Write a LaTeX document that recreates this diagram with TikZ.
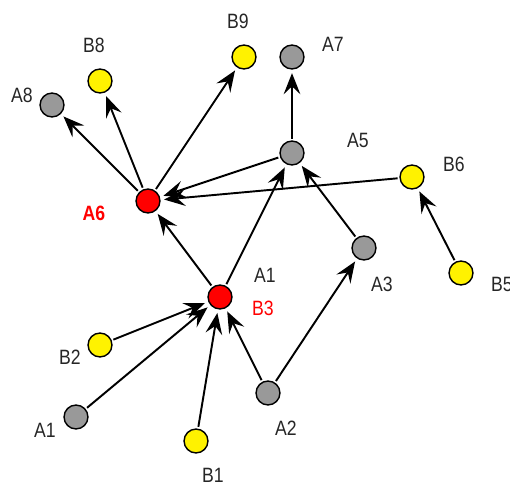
\documentclass[tikz,border=0pt]{standalone}
\usepackage{fontspec}
\setmainfont{Liberation Sans}[FakeStretch=0.85]
\usetikzlibrary{arrows.meta}
\definecolor{nodegray}{RGB}{153,153,153}
\tikzset{>={Stealth[length=12pt,width=9.5pt,inset=4.5pt]}}
\tikzset{
  vert/.style={circle, draw, line width=0.8pt, minimum size=13.6pt, inner sep=0pt},
  gv/.style={vert, fill=nodegray},
  yv/.style={vert, fill=yellow},
  rv/.style={vert, fill=red},
  lab/.style={font=\fontsize{11.8}{13}\selectfont, text=black!85, inner sep=0pt},
  edge/.style={->, line width=1.1pt, shorten >=2pt, shorten <=1pt}
}

\begin{document}
\begin{tikzpicture}[x=0.02cm, y=-0.02cm]
\useasboundingbox (0,0) rectangle (510,483);
\node[gv] (A8) at (52,105) {};
\node[yv] (B8) at (100,81) {};
\node[yv] (B9) at (244,57) {};
\node[gv] (A7) at (292,57) {};
\node[rv] (A6) at (148,201) {};
\node[gv] (A5) at (292,153) {};
\node[yv] (B6) at (412,177) {};
\node[gv] (A3) at (364,248) {};
\node[yv] (B5) at (461,273) {};
\node[rv] (B3) at (220,297) {};
\node[yv] (B2) at (100,345) {};
\node[gv] (A2) at (268,393) {};
\node[gv] (A1) at (76,417) {};
\node[yv] (B1) at (196,441) {};
\node[lab] (lA8) at (22,95) {A8};
\node[lab] (lB8) at (94,45) {B8};
\node[lab] (lB9) at (238,21) {B9};
\node[lab] (lA7) at (333,44) {A7};
\node[lab, text=red, font=\fontsize{11.8}{13}\selectfont\bfseries] (lA6) at (94,213) {A6};
\node[lab] (lA5) at (358,140) {A5};
\node[lab] (lB6) at (454,164) {B6};
\node[lab] (lA3) at (382,284) {A3};
\node[lab] (lB5) at (502,284) {B5};
\node[lab] (lA1b) at (265,275) {A1};
\node[lab, text=red] (lB3) at (263,308) {B3};
\node[lab] (lB2) at (70,357) {B2};
\node[lab] (lA2) at (286,428) {A2};
\node[lab] (lA1) at (45,430) {A1};
\node[lab] (lB1) at (213,475) {B1};
\draw[edge] (A6) -- (A8);
\draw[edge] (A6) -- (B8);
\draw[edge] (A6) -- (B9);
\draw[edge] (A5) -- (A7);
\draw[edge] (A5) -- (A6);
\draw[edge] (B6) -- (A6);
\draw[edge] (B3) -- (A6);
\draw[edge] (B3) -- (A5);
\draw[edge] (A3) -- (A5);
\draw[edge] (B5) -- (B6);
\draw[edge] (A2) -- (A3);
\draw[edge] (B2) -- (B3);
\draw[edge] (A1) -- (B3);
\draw[edge] (B1) -- (B3);
\draw[edge] (A2) -- (B3);
\end{tikzpicture}
\end{document}
